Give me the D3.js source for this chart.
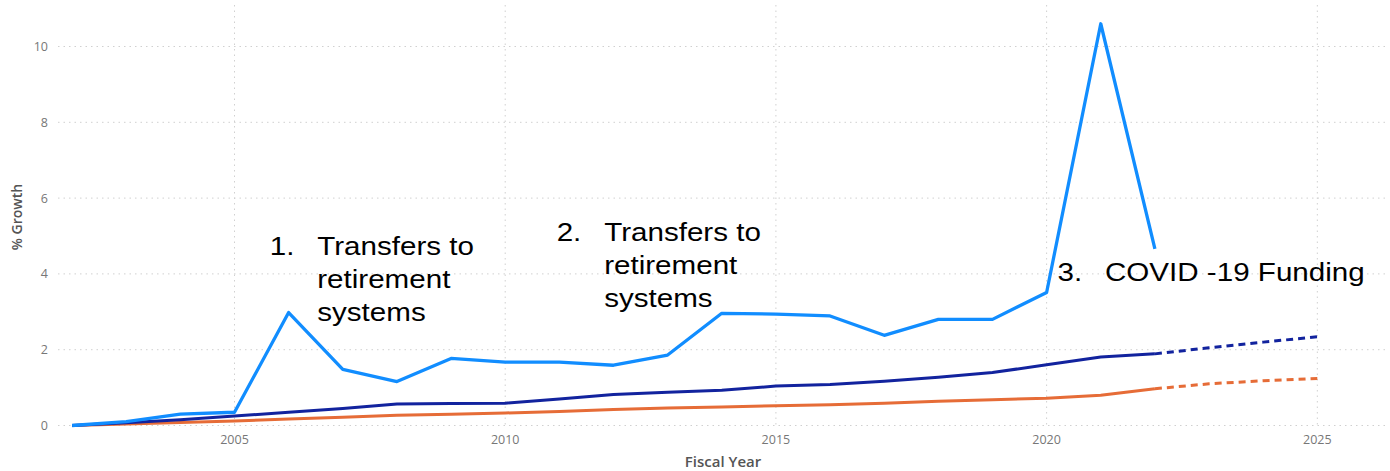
<!DOCTYPE html>
<html>
<head>
	<meta charset="utf-8">
	<script src="https://d3js.org/d3.v7.min.js"></script>
	<style type="text/css">
		body { margin: 0; background: #fff; }
		svg text.tick-label { font-family: 'Open Sans', 'Noto Sans', sans-serif; font-size: 12.5px; fill: #777; }
		svg text.note { font-family: 'Liberation Sans', Arial, sans-serif; font-size: 25.5px; fill: #000; }
	</style>
</head>
<body>
	<script type="text/javascript">
		var w = 1390;
		var h = 471;

		// data
		var years = [2002, 2003, 2004, 2005, 2006, 2007, 2008, 2009, 2010, 2011, 2012,
		             2013, 2014, 2015, 2016, 2017, 2018, 2019, 2020, 2021, 2022];
		var totalGrowth = [0, 0.1, 0.3, 0.35, 2.98, 1.48, 1.16, 1.77, 1.67, 1.67, 1.59,
		                   1.86, 2.96, 2.94, 2.89, 2.38, 2.8, 2.8, 3.51, 10.6, 4.66];
		var darkGrowth = [0, 0.07, 0.15, 0.25, 0.35, 0.45, 0.57, 0.58, 0.59, 0.7, 0.82,
		                  0.88, 0.93, 1.04, 1.08, 1.17, 1.27, 1.4, 1.6, 1.81, 1.89];
		var orangeGrowth = [0, 0.04, 0.08, 0.12, 0.17, 0.22, 0.27, 0.3, 0.33, 0.37, 0.42,
		                    0.46, 0.49, 0.52, 0.55, 0.59, 0.64, 0.68, 0.72, 0.8, 0.97];
		var forecastYears = [2022, 2023, 2024, 2025];
		var darkForecast = [1.89, 2.05, 2.2, 2.34];
		var orangeForecast = [0.97, 1.1, 1.18, 1.24];
		var xTicks = [2005, 2010, 2015, 2020, 2025];
		var yTicks = [0, 2, 4, 6, 8, 10];
		var notes = [
			{ num: '1.', lines: ['Transfers to', 'retirement', 'systems'], year: 2005.65, value: 4.51 },
			{ num: '2.', lines: ['Transfers to', 'retirement', 'systems'], year: 2010.95, value: 4.86 },
			{ num: '3.', lines: ['COVID -19 Funding'], year: 2020.2, value: 3.8 }
		];

		var svg = d3.select('body')
			.append('svg')
			.attr('width', w)
			.attr('height', h);

		var x = d3.scaleLinear().domain([2001.74, 2026.25]).range([58, 1385]);
		var y = d3.scaleLinear().domain([0, 10]).range([425.5, 46.5]);

		// grid
		svg.append('g')
			.selectAll('line')
			.data(yTicks)
			.enter()
			.append('line')
			.attr('x1', 58)
			.attr('x2', 1385)
			.attr('y1', function (d) { return y(d); })
			.attr('y2', function (d) { return y(d); })
			.attr('stroke', '#d0d0d0')
			.attr('stroke-width', 1)
			.attr('stroke-dasharray', '1.5,4');

		svg.append('g')
			.selectAll('line')
			.data(xTicks)
			.enter()
			.append('line')
			.attr('x1', function (d) { return x(d); })
			.attr('x2', function (d) { return x(d); })
			.attr('y1', 5)
			.attr('y2', 425.5)
			.attr('stroke', '#d0d0d0')
			.attr('stroke-width', 1)
			.attr('stroke-dasharray', '1.5,4');

		// axes labels
		svg.append('g')
			.selectAll('text')
			.data(yTicks)
			.enter()
			.append('text')
			.attr('class', 'tick-label')
			.attr('x', 48)
			.attr('y', function (d) { return y(d) + 4.5; })
			.attr('text-anchor', 'end')
			.text(function (d) { return d; });

		svg.append('g')
			.selectAll('text')
			.data(xTicks)
			.enter()
			.append('text')
			.attr('class', 'tick-label')
			.attr('x', function (d) { return x(d); })
			.attr('y', 444)
			.attr('text-anchor', 'middle')
			.text(function (d) { return d; });

		svg.append('text')
			.attr('x', 723)
			.attr('y', 467)
			.attr('text-anchor', 'middle')
			.style('font-family', "'Open Sans', 'Noto Sans', sans-serif")
			.style('font-size', '15px')
			.style('font-weight', 600)
			.style('fill', '#555')
			.text('Fiscal Year');

		svg.append('text')
			.attr('transform', 'translate(22,217) rotate(-90)')
			.attr('text-anchor', 'middle')
			.style('font-family', "'Open Sans', 'Noto Sans', sans-serif")
			.style('font-size', '14px')
			.style('font-weight', 600)
			.style('fill', '#555')
			.text('% Growth');

		// lines
		var line = d3.line()
			.x(function (d) { return x(d[0]); })
			.y(function (d) { return y(d[1]); });

		function drawLine(xs, ys, color, dash, width) {
			svg.append('path')
				.datum(d3.zip(xs, ys))
				.attr('d', line)
				.attr('fill', 'none')
				.attr('stroke', color)
				.attr('stroke-width', width)
				.attr('stroke-linejoin', 'round')
				.attr('stroke-dasharray', dash);
		}

		drawLine(years, orangeGrowth, '#E66C37', null, 3);
		drawLine(forecastYears, orangeForecast, '#E66C37', '7,5', 3);
		drawLine(years, darkGrowth, '#12239E', null, 3);
		drawLine(forecastYears, darkForecast, '#12239E', '7,5', 3);
		drawLine(years, totalGrowth, '#118DFF', null, 3.3);

		// annotations (text in the reference is stretched horizontally)
		notes.forEach(function (n) {
			var g = svg.append('g')
				.attr('transform', 'translate(' + x(n.year) + ',' + y(n.value) + ') scale(1.16,1)');
			g.append('text')
				.attr('class', 'note')
				.attr('x', 0)
				.attr('y', 0)
				.text(n.num);
			g.selectAll('text.line')
				.data(n.lines)
				.enter()
				.append('text')
				.attr('class', 'note line')
				.attr('x', 41)
				.attr('y', function (d, i) { return i * 33; })
				.text(function (d) { return d; });
		});
	</script>
</body>
</html>
